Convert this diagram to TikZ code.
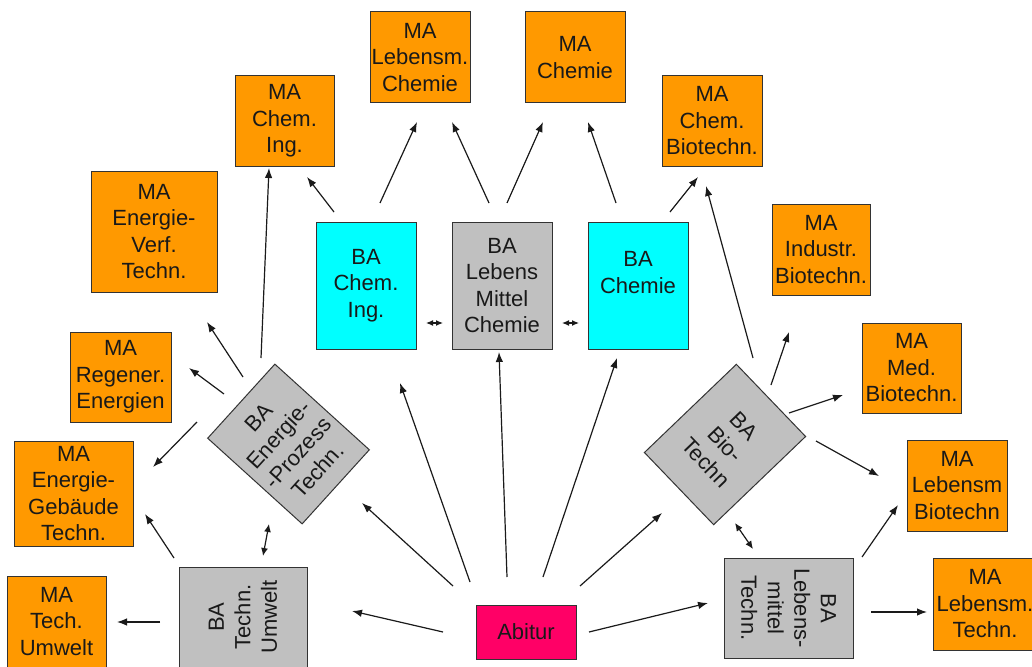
\documentclass[tikz,border=0pt]{standalone}
\usepackage{fontspec}
\setmainfont{Liberation Sans}
\usetikzlibrary{arrows.meta}
\definecolor{maorange}{HTML}{FF9900}
\definecolor{bacyan}{HTML}{00FFFF}
\definecolor{bagray}{HTML}{C0C0C0}
\definecolor{abimag}{HTML}{FF0066}
\definecolor{boxline}{HTML}{333333}
\definecolor{linecol}{HTML}{1A1A1A}
\newcommand{\boxfont}{\fontsize{22}{26.5}\selectfont}
\begin{document}
\begin{tikzpicture}[x=1pt,y=-1pt,
  box/.style={draw=boxline,line width=1pt,inner sep=0pt,align=center,font=\boxfont,text=black!90},
  ma/.style={box,fill=maorange,minimum width=100pt,minimum height=91pt},
  bac/.style={box,fill=bacyan,minimum width=100pt,minimum height=127pt},
  bag/.style={box,fill=bagray,minimum width=100pt,minimum height=127pt},
  abs/.style={box,fill=abimag,minimum width=100pt,minimum height=54pt},
  arr/.style={draw=linecol,line width=1.2pt,-{Latex[length=10pt,width=7.5pt]}},
  darr/.style={draw=linecol,line width=1.2pt,{Latex[length=8pt,width=7pt]}-{Latex[length=8pt,width=7pt]}},
  sarr/.style={draw=linecol,line width=1.2pt,{Latex[length=7pt,width=6pt]}-{Latex[length=7pt,width=6pt]}}
]
\useasboundingbox (0,0) rectangle (1032,666);

% MA boxes
\node[ma] (mLC) at (420,57.5) {MA\\Lebensm.\\Chemie};
\node[ma] (mCh) at (575,57.5) {MA\\Chemie};
\node[ma,minimum width=99pt,minimum height=90pt] (mCI) at (284.5,121) {MA\\Chem.\\Ing.};
\node[ma,minimum height=90pt] (mCB) at (712,121) {MA\\Chem.\\Biotechn.};
\node[ma,minimum width=126pt,minimum height=121pt] (mEV) at (154,231.5) {MA\\Energie-\\Verf.\\Techn.};
\node[ma,minimum width=98pt] (mIB) at (821,249.5) {MA\\Industr.\\Biotechn.};
\node[ma,minimum width=101pt,minimum height=90pt] (mRE) at (120.5,377) {MA\\Regener.\\Energien};
\node[ma,minimum width=99pt,minimum height=90pt] (mMB) at (911.5,368) {MA\\Med.\\Biotechn.};
\node[ma,minimum width=119pt,minimum height=105pt] (mEG) at (73.5,493.5) {MA\\Energie-\\Gebäude\\Techn.};
\node[ma] (mLB) at (957,485.5) {MA\\Lebensm\\Biotechn};
\node[ma,minimum width=99pt] (mTU) at (56.5,621.5) {MA\\Tech.\\Umwelt};
\node[ma,minimum width=104pt,minimum height=92pt] (mLT) at (985,604) {MA\\Lebensm.\\Techn.};

% BA boxes
\node[bac] (bCI) at (366,285.5) {BA\\Chem.\\Ing.};
\node[bag] (bLMC) at (502,285.5) {BA\\Lebens\\Mittel\\Chemie};
\node[bac] (bCh) at (638,285.5) {BA\\Chemie\\~};
\node[bag,rotate=47.8,minimum width=100pt,minimum height=127.5pt] (bEP) at (288.5,444) {BA\\Energie-\\-Prozess\\Techn.};
\node[bag,rotate=-46.2,minimum width=100pt,minimum height=127.4pt] (bBio) at (725,444.5) {BA\\Bio-\\Techn};
\node[bag,rotate=90,minimum width=100pt,minimum height=128pt] (bTU) at (243,617) {BA\\Techn.\\Umwelt};
\node[bag,rotate=-90,minimum width=100pt,minimum height=129pt] (bLT) at (788.5,608) {BA\\Lebens-\\mittel\\Techn.};
\node[abs] (abi) at (526,632) {Abitur};

% arrows from top BA boxes
\draw[arr] ([shift={(-32,-73.5)}]bCI.center) -- ([shift={(22.5,56)}]mCI.center);
\draw[arr] ([shift={(14,-82.5)}]bCI.center) -- ([shift={(-3,64.5)}]mLC.center);
\draw[arr] ([shift={(-13,-82.5)}]bLMC.center) -- ([shift={(32,64.5)}]mLC.center);
\draw[arr] ([shift={(5,-82.5)}]bLMC.center) -- ([shift={(-32,64.5)}]mCh.center);
\draw[arr] ([shift={(-22,-82.5)}]bCh.center) -- ([shift={(13,64.5)}]mCh.center);
\draw[arr] ([shift={(32,-73.5)}]bCh.center) -- ([shift={(-14,56)}]mCB.center);

% Bio box
\draw[arr] ([shift={(28,-86.5)}]bBio.center) -- ([shift={(-6,65)}]mCB.center);
\draw[arr] ([shift={(46,-59.5)}]bBio.center) -- ([shift={(-32,82.5)}]mIB.center);
\draw[arr] ([shift={(64,-31.5)}]bBio.center) -- ([shift={(-68.5,27)}]mMB.center);
\draw[arr] ([shift={(91,-3.5)}]bBio.center) -- ([shift={(-78,-9.5)}]mLB.center);

% Lebensmittel Techn
\draw[arr] ([shift={(73.5,-51)}]bLT.center) -- ([shift={(-59,19.5)}]mLB.center);
\draw[arr] ([shift={(82.5,4)}]bLT.center) -- ([shift={(-58,8)}]mLT.center);

% Energie-Prozess
\draw[arr] ([shift={(-27.5,-86)}]bEP.center) -- ([shift={(-15.5,47)}]mCI.center);
\draw[arr] ([shift={(-45.5,-67)}]bEP.center) -- ([shift={(53,90.5)}]mEV.center);
\draw[arr] ([shift={(-64.5,-50)}]bEP.center) -- ([shift={(68.5,-9)}]mRE.center);
\draw[arr] ([shift={(-91.5,-22)}]bEP.center) -- ([shift={(79.5,-26.5)}]mEG.center);

% Techn. Umwelt
\draw[arr] ([shift={(-69,-59)}]bTU.center) -- ([shift={(71.5,20.5)}]mEG.center);
\draw[arr] ([shift={(-83,5)}]bTU.center) -- ([shift={(60.5,0.5)}]mTU.center);

% double arrows
\draw[darr] ([shift={(20,-61)}]bTU.center) -- ([shift={(-19.5,80)}]bEP.center);
\draw[darr] ([shift={(10,78.5)}]bBio.center) -- ([shift={(-35.5,-59)}]bLT.center);
\draw[sarr] ([shift={(60,37.5)}]bCI.center) -- ([shift={(-59,37.5)}]bLMC.center);
\draw[sarr] ([shift={(60,37.5)}]bLMC.center) -- ([shift={(-59,37.5)}]bCh.center);

% Abitur
\draw[arr] ([shift={(-83,0)}]abi.center) -- ([shift={(109,-6)}]bTU.center);
\draw[arr] ([shift={(-73,-46)}]abi.center) -- ([shift={(73.5,59)}]bEP.center);
\draw[arr] ([shift={(-56,-50)}]abi.center) -- ([shift={(34,97.5)}]bCI.center);
\draw[arr] ([shift={(-19,-55)}]abi.center) -- ([shift={(-3,66.5)}]bLMC.center);
\draw[arr] ([shift={(17,-55)}]abi.center) -- ([shift={(-21,72.5)}]bCh.center);
\draw[arr] ([shift={(54,-46)}]abi.center) -- ([shift={(-63,68.5)}]bBio.center);
\draw[arr] ([shift={(63,0)}]abi.center) -- ([shift={(-80.5,-5)}]bLT.center);
\end{tikzpicture}
\end{document}
